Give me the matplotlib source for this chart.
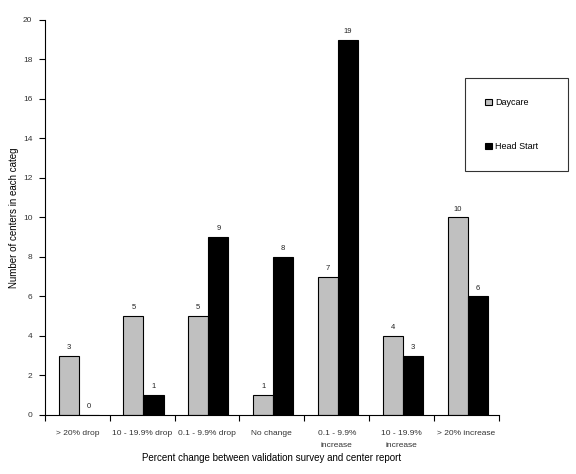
import matplotlib
matplotlib.use("Agg")
import matplotlib.pyplot as plt
import numpy as np

categories = ["> 20% drop", "10 - 19.9% drop", "0.1 - 9.9% drop", "No change",
              "0.1 - 9.9%\nincrease", "10 - 19.9%\nincrease", "> 20% increase"]
daycare = [3, 5, 5, 1, 7, 4, 10]
head_start = [0, 1, 9, 8, 19, 3, 6]
yticks = [0, 2, 4, 6, 8, 10, 12, 14, 16, 18, 20]

plt.rcParams['font.family'] = ['Liberation Sans', 'DejaVu Sans']

fig = plt.figure(figsize=(5.76, 4.74), dpi=100)
ax = fig.add_axes([0.078, 0.1245, 0.788, 0.8335])

x = np.arange(len(categories))
w = 0.31
b1 = ax.bar(x - w/2 + 0.02, daycare, w, color="#c0c0c0", edgecolor="black", linewidth=0.8, label="Daycare")
b2 = ax.bar(x + w/2 + 0.02, head_start, w, color="black", edgecolor="black", linewidth=0.8, label="Head Start")

for xi, v in zip(x - w/2 + 0.02, daycare):
    ax.text(xi, v + 0.25, str(v), ha="center", va="bottom", fontsize=5.5, color="#222222")
for xi, v in zip(x + w/2 + 0.02, head_start):
    ax.text(xi, v + 0.25, str(v), ha="center", va="bottom", fontsize=5.5, color="#222222")

ax.set_xlim(-0.5, len(categories) - 0.5)
ax.set_ylim(0, 20)
ax.set_yticks(yticks)
ax.set_yticklabels([str(t) for t in yticks], fontsize=6, color="#333333")
ax.set_xticks(np.arange(len(categories) + 1) - 0.5)
ax.set_xticklabels([])
ax.set_xticks(x, minor=True)
ax.set_xticklabels(categories, minor=True, fontsize=6, color="#333333", linespacing=1.9)
ax.tick_params(axis='x', which='minor', length=0, pad=11)
ax.tick_params(axis='x', which='major', length=4, width=0.8, direction='out')
ax.tick_params(axis='y', length=4, width=0.8, direction='out', pad=5)

for s in ["top", "right"]:
    ax.spines[s].set_visible(False)
for s in ["left", "bottom"]:
    ax.spines[s].set_linewidth(0.8)

ax.set_ylabel("Number of centers in each categ", fontsize=7)
ax.yaxis.set_label_coords(-0.058, 0.5)
ax.set_xlabel("Percent change between validation survey and center report", fontsize=7, labelpad=3)

leg = ax.legend(loc="upper left", bbox_to_anchor=(465/576, 1 - 169/474, 103/576, 91/474),
                bbox_transform=fig.transFigure, mode="expand", fontsize=6.5,
                frameon=True, fancybox=False, edgecolor="black", handlelength=0.8,
                handleheight=0.6, labelspacing=3.9, borderpad=2.2, handletextpad=0.3,
                borderaxespad=0)
leg.get_frame().set_linewidth(0.8)

fig.savefig("out.png", dpi=100)
